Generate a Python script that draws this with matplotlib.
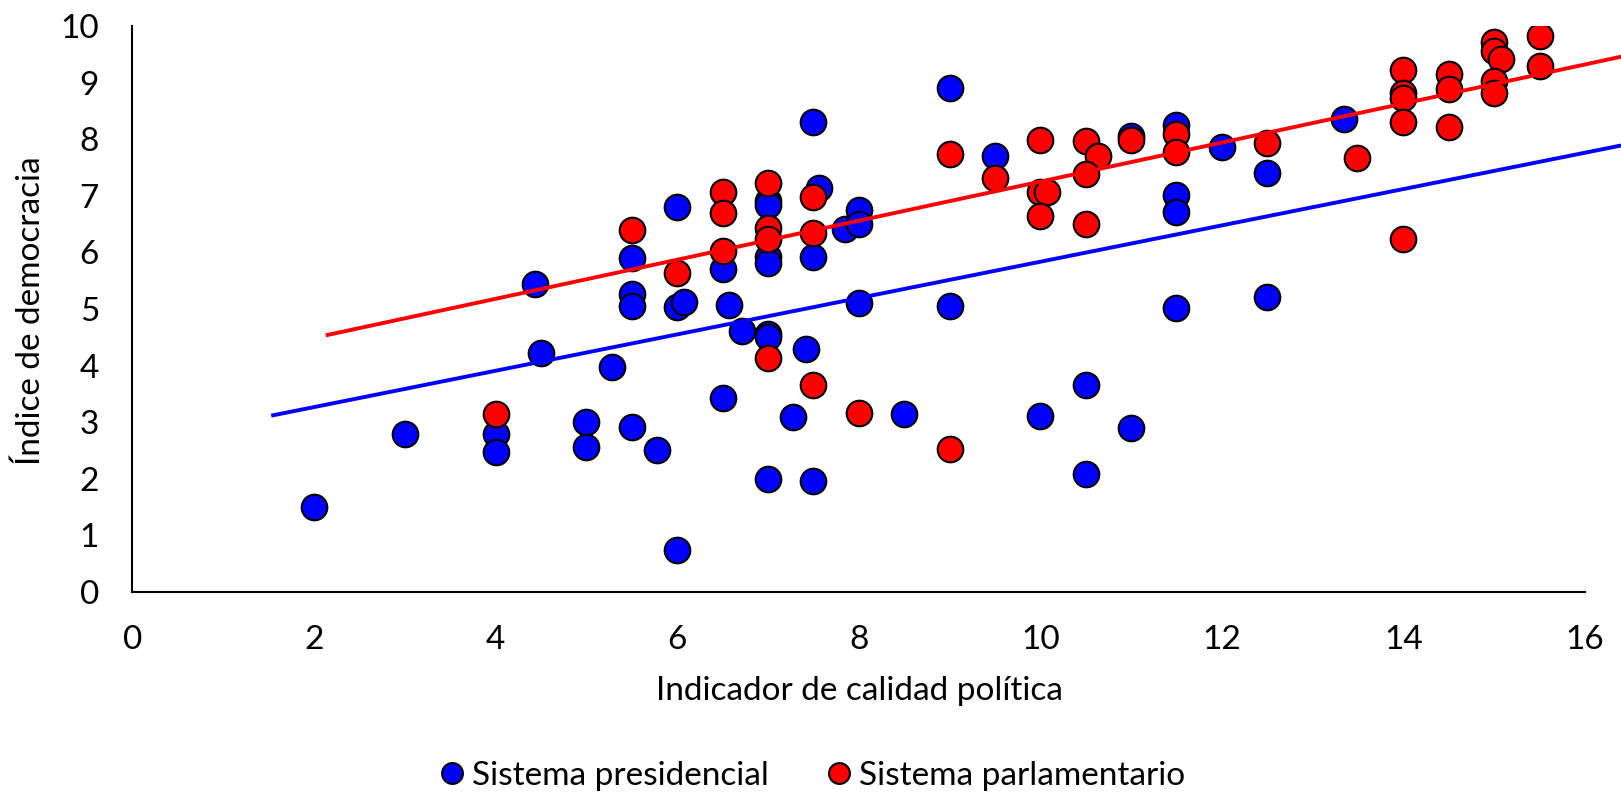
import numpy as np
import matplotlib.pyplot as plt
from matplotlib.lines import Line2D

plt.rcParams['font.family'] = ['Lato', 'DejaVu Sans']

# Sistema presidencial
pres_x = [2.0, 3.0, 4.0, 4.0, 4.43, 4.5, 5.0, 5.0, 5.28, 5.5, 5.5, 5.5, 5.5, 5.78,
          6.0, 6.0, 6.07, 6.0, 6.5, 6.57, 6.71, 6.5, 7.0, 7.0, 7.0, 7.0, 7.0, 7.0,
          7.0, 7.28, 7.42, 7.5, 7.56, 7.5, 7.5, 7.85, 8.0, 8.0, 8.0, 8.5, 9.0, 9.0,
          9.5, 10.0, 10.5, 10.5, 11.0, 11.0, 11.5, 11.5, 11.5, 11.5, 12.0, 12.5,
          12.5, 13.35]
pres_y = [1.5, 2.8, 2.8, 2.47, 5.44, 4.23, 3.0, 2.57, 3.97, 5.9, 5.27, 5.06, 2.91, 2.51,
          6.8, 5.04, 5.12, 0.75, 5.7, 5.07, 4.62, 3.42, 6.9, 6.83, 5.92, 5.82, 4.56, 4.5,
          2.0, 3.09, 4.3, 8.3, 7.14, 5.92, 1.97, 6.41, 6.75, 6.51, 5.11, 3.14, 8.91, 5.05,
          7.7, 3.11, 3.66, 2.09, 8.05, 2.9, 8.25, 7.01, 6.72, 5.01, 7.87, 7.4,
          5.22, 8.35]

# Sistema parlamentario
parl_x = [4.0, 5.5, 6.0, 6.5, 6.5, 6.5, 7.0, 7.0, 7.0, 7.0, 7.5, 7.5, 7.5, 8.0,
          9.0, 9.0, 9.5, 10.0, 10.0, 10.07, 10.0, 10.5, 10.64, 10.5, 10.5, 11.0,
          11.5, 11.5, 12.5, 13.49, 14.0, 14.0, 14.0, 14.0, 14.0, 14.5, 14.5, 14.5,
          15.0, 15.0, 15.07, 15.0, 15.0, 15.5, 15.5]
parl_y = [3.14, 6.4, 5.63, 7.06, 6.69, 6.03, 7.22, 6.43, 6.24, 4.14, 6.97, 6.35, 3.66, 3.17,
          7.74, 2.53, 7.31, 7.98, 7.06, 7.07, 6.65, 7.97, 7.71, 7.38, 6.51, 7.98,
          8.1, 7.78, 7.93, 7.66, 9.22, 8.81, 8.72, 8.31, 6.23, 9.15, 8.88, 8.21,
          9.72, 9.55, 9.41, 9.02, 8.81, 9.83, 9.3]

# linear trendlines (slope, intercept, x range)
pres_trend = (0.321, 2.625)
parl_trend = (0.345, 3.80)
pres_trend_range = [1.55, 16.4]
parl_trend_range = [2.15, 16.4]

x_ticks = list(range(0, 17, 2))
y_ticks = list(range(0, 11))

fig = plt.figure(figsize=(16.21, 7.92), dpi=100)
ax = fig.add_axes([0.0817, 0.2525, 0.8961, 0.7147])

ax.scatter(pres_x, pres_y, s=340, color='#0000ff', edgecolors='black', linewidths=1.5, zorder=3)
ax.scatter(parl_x, parl_y, s=340, color='#ff0000', edgecolors='black', linewidths=1.5, zorder=4)

for (m, b), rng, col in [(pres_trend, pres_trend_range, '#0000ff'),
                         (parl_trend, parl_trend_range, '#ff0000')]:
    tx = np.array(rng)
    ax.plot(tx, m * tx + b, color=col, lw=2.8, zorder=5, clip_on=False)

ax.set_xlim(0, 16)
ax.set_ylim(0, 10)
ax.set_xticks(x_ticks)
ax.set_yticks(y_ticks)
ax.tick_params(length=0, labelsize=24)
ax.tick_params(axis='x', pad=24)
ax.tick_params(axis='y', pad=24)
for s in ['top', 'right']:
    ax.spines[s].set_visible(False)
for s in ['left', 'bottom']:
    ax.spines[s].set_linewidth(1.5)

fig.text(0.53, 0.128, 'Indicador de calidad política', fontsize=24, ha='center', va='center')
fig.text(0.019, 0.608, 'Índice de democracia', fontsize=24, ha='center', va='center', rotation=90)

handles = [Line2D([], [], ls='', marker='o', ms=15, mfc='#0000ff', mec='black', mew=1.5),
           Line2D([], [], ls='', marker='o', ms=15, mfc='#ff0000', mec='black', mew=1.5)]
fig.legend(handles, ['Sistema presidencial', 'Sistema parlamentario'], loc='center',
           bbox_to_anchor=(0.5, 0.02), ncol=2, frameon=False, fontsize=24,
           handletextpad=0.1, columnspacing=1.6, handlelength=1.0)

fig.savefig('out.png', dpi=100)
